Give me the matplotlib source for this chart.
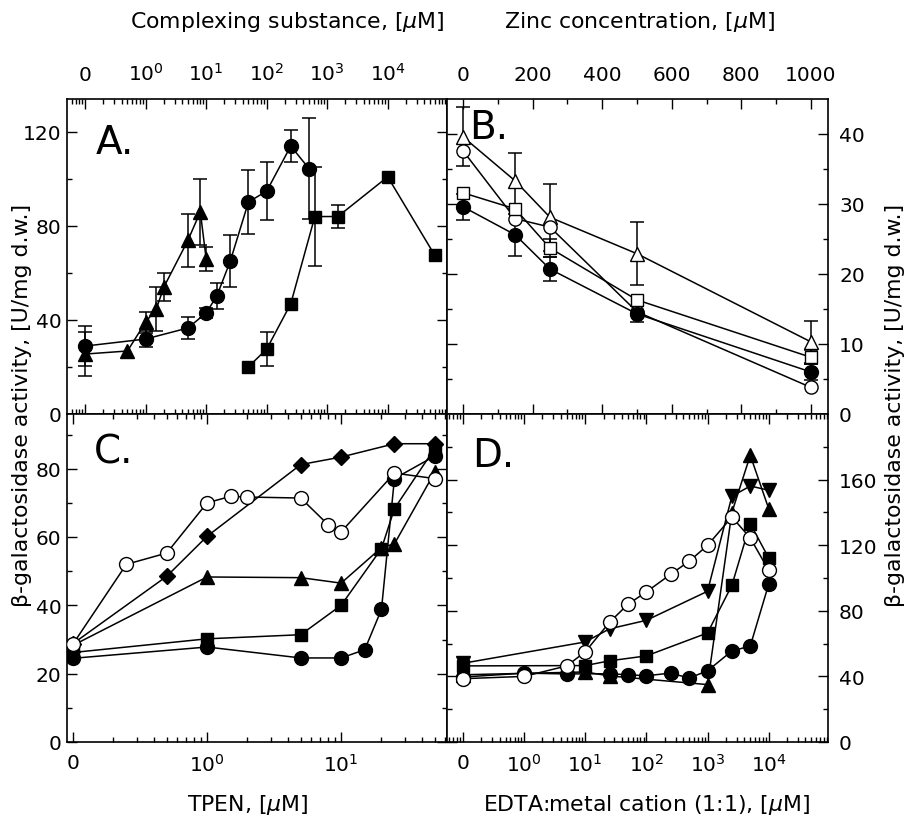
import numpy as np
import matplotlib.pyplot as plt
from matplotlib.ticker import FixedLocator, LogLocator, NullFormatter, MultipleLocator

plt.rcParams['font.family'] = 'DejaVu Sans'
plt.rcParams['mathtext.fontset'] = 'dejavusans'

# ---- panel A: complexing substance (log scale, 0 shown at 0.1) ----
a_tri_x = [0, 0.5, 1, 1.5, 2, 5, 8, 10]
a_tri_y = [25.5, 26.8, 39.1, 44.7, 54.0, 73.9, 86.0, 66.0]
a_tri_err = [9.3, 0, 4.5, 9.5, 6, 11.3, 14, 5]

a_circ_x = [0, 1, 5, 10, 15, 25, 50, 100, 250, 500]
a_circ_y = [28.9, 31.9, 36.6, 43.0, 50.2, 65.0, 90.2, 94.8, 114.0, 104.4]
a_circ_err = [8.5, 3.2, 4.5, 2, 5.7, 11, 13.8, 12.2, 7, 21.5]

a_sq_x = [50, 100, 250, 625, 1500, 10000, 60000]
a_sq_y = [20.1, 27.6, 46.9, 84.0, 84.0, 100.9, 67.5]
a_sq_err = [0, 7.2, 0, 21, 5, 0, 0]

# ---- panel B: zinc concentration ----
b_x = [0, 150, 250, 500, 1000]
b_otri = [39.6, 33.3, 28.1, 22.9, 10.3]
b_otri_err = [4.2, 4, 4.8, 4.5, 3]
b_ocirc = [37.6, 27.9, 26.7, 14.6, 3.8]
b_osq = [31.6, 29.3, 23.7, 16.3, 8.1]
b_osq_err = [0, 0, 1.3, 0, 1]
b_fcirc = [29.6, 25.6, 20.7, 14.3, 6.0]
b_fcirc_err = [1.9, 3, 1.7, 1.1, 1.2]

# ---- panel C: TPEN ----
c_ocirc_x = [0, 0.25, 0.5, 1, 1.5, 2, 5, 8, 10, 25, 50]
c_ocirc_y = [28.7, 52.0, 55.3, 70.0, 71.9, 71.7, 71.4, 63.6, 61.5, 78.7, 77.1]
c_dia_x = [0, 0.5, 1, 5, 10, 25, 50]
c_dia_y = [28.8, 48.5, 60.2, 81.2, 83.4, 87.3, 87.3]
c_tri_x = [0, 1, 5, 10, 20, 25, 50]
c_tri_y = [28.3, 48.3, 48.1, 46.5, 56.9, 58.0, 79.0]
c_sq_x = [0, 1, 5, 10, 20, 25, 50]
c_sq_y = [26.2, 30.2, 31.4, 40.0, 56.6, 68.3, 86.0]
c_circ_x = [0, 1, 5, 10, 15, 20, 25, 50]
c_circ_y = [24.5, 27.8, 24.6, 24.6, 27.0, 38.8, 77.1, 83.7]

# ---- panel D: EDTA:metal cation ----
d_ocirc_x = [0, 1, 5, 10, 25, 50, 100, 250, 500, 1000, 2500, 5000, 10000]
d_ocirc_y = [38.6, 40.0, 46.4, 55.0, 73.0, 84.0, 91.5, 102.3, 110.2, 119.9, 137.2, 124.4, 104.7]
d_dtri_x = [0, 10, 25, 100, 1000, 2500, 5000, 10000]
d_dtri_y = [48, 61, 69, 74.2, 91.9, 149.8, 156.1, 153.5]
d_utri_x = [0, 10, 25, 1000, 2500, 5000, 10000]
d_utri_y = [41, 42.7, 40.3, 35.0, 139.9, 174.8, 142.3]
d_sq_x = [0, 10, 25, 100, 1000, 2500, 5000, 10000]
d_sq_y = [46.4, 46.6, 49.5, 52.5, 66.5, 95.5, 133.2, 112.2]
d_fcirc_x = [0, 1, 5, 25, 50, 100, 250, 500, 1000, 2500, 5000, 10000]
d_fcirc_y = [39.6, 42.0, 41.5, 41.6, 41.0, 40.4, 42.0, 39.0, 43.4, 55.5, 58.5, 96.2]

log_ticks = [0.1, 1, 10, 100, 1000, 10000]
log_labels = ['0', '$10^{0}$', '$10^{1}$', '$10^{2}$', '$10^{3}$', '$10^{4}$']

FS = 14.5


def zpos(x):
    # zero is drawn one decade below 10^0
    x = np.asarray(x, dtype=float)
    return np.where(x == 0, 0.1, x)


def series(ax, x, y, marker, ms, filled=True, err=None, logx=True):
    xs = zpos(x) if logx else np.asarray(x, dtype=float)
    y = np.asarray(y, dtype=float)
    if err is not None:
        err = np.asarray(err, dtype=float)
        m = err > 0
        ax.errorbar(xs[m], y[m], yerr=err[m], fmt='none', ecolor='black',
                    elinewidth=1.1, capsize=5, capthick=1.1, zorder=2)
    ax.plot(xs, y, color='black', lw=1.1, marker=marker, ms=ms,
            mfc='black' if filled else 'white', mec='black', mew=1.0, zorder=3)


def style(ax, ymaj, ymin, ylim):
    ax.set_ylim(*ylim)
    ax.yaxis.set_major_locator(FixedLocator(ymaj))
    ax.yaxis.set_minor_locator(FixedLocator(ymin))
    ax.tick_params(which='both', direction='in', top=True, bottom=True,
                   left=True, right=True, width=1.0, labelsize=FS)
    ax.tick_params(which='major', length=7)
    ax.tick_params(which='minor', length=3.5)
    for s in ax.spines.values():
        s.set_linewidth(1.2)


def logaxis(ax, lo, hi):
    ax.set_xscale('log')
    ax.set_xlim(10 ** lo, 10 ** hi)
    ticks = [t for t in log_ticks if 10 ** lo <= t <= 10 ** hi]
    ax.xaxis.set_major_locator(FixedLocator(ticks))
    ax.set_xticklabels(log_labels[:len(ticks)])
    ax.xaxis.set_minor_locator(LogLocator(base=10, subs=np.arange(2, 10), numticks=30))
    ax.xaxis.set_minor_formatter(NullFormatter())


fig = plt.figure(figsize=(9.09, 8.2), dpi=100)
W, H = 909, 820
ax_a = fig.add_axes([67 / W, 1 - 415 / H, 380 / W, 315 / H])
ax_b = fig.add_axes([447 / W, 1 - 415 / H, 381 / W, 315 / H])
ax_c = fig.add_axes([67 / W, 1 - 743 / H, 380 / W, 328 / H])
ax_d = fig.add_axes([447 / W, 1 - 743 / H, 381 / W, 328 / H])

# A
series(ax_a, a_tri_x, a_tri_y, '^', 9.5, err=a_tri_err)
series(ax_a, a_circ_x, a_circ_y, 'o', 10, err=a_circ_err)
series(ax_a, a_sq_x, a_sq_y, 's', 8.5, err=a_sq_err)
logaxis(ax_a, -1.3, 4.98)
style(ax_a, [0, 40, 80, 120], [20, 60, 100], (0, 134))
ax_a.tick_params(axis='x', labeltop=True, labelbottom=False)
ax_a.tick_params(axis='x', which='major', pad=11)
ax_a.tick_params(axis='y', which='major', pad=4)
ax_a.text(0.075, 0.865, 'A.', transform=ax_a.transAxes, fontsize=28, va='center')

# B
series(ax_b, b_x, b_otri, '^', 9.5, filled=False, err=b_otri_err, logx=False)
series(ax_b, b_x, b_ocirc, 'o', 9.5, filled=False, logx=False)
series(ax_b, b_x, b_osq, 's', 8.5, filled=False, err=b_osq_err, logx=False)
series(ax_b, b_x, b_fcirc, 'o', 10, err=b_fcirc_err, logx=False)
ax_b.set_xlim(-46, 1049)
ax_b.xaxis.set_major_locator(MultipleLocator(200))
ax_b.xaxis.set_minor_locator(MultipleLocator(100))
style(ax_b, [0, 10, 20, 30, 40], [5, 15, 25, 35], (0, 45))
ax_b.tick_params(axis='x', labeltop=True, labelbottom=False)
ax_b.tick_params(axis='x', which='major', pad=11)
ax_b.tick_params(axis='y', labelleft=False, labelright=True)
ax_b.tick_params(axis='y', which='major', pad=8)
ax_b.text(0.058, 0.91, 'B.', transform=ax_b.transAxes, fontsize=28, va='center')

# C
series(ax_c, c_circ_x, c_circ_y, 'o', 10)
series(ax_c, c_sq_x, c_sq_y, 's', 8.5)
series(ax_c, c_tri_x, c_tri_y, '^', 9.5)
series(ax_c, c_dia_x, c_dia_y, 'D', 8.5)
series(ax_c, c_ocirc_x, c_ocirc_y, 'o', 10, filled=False)
logaxis(ax_c, -1.045, 1.79)
style(ax_c, [0, 20, 40, 60, 80], [10, 30, 50, 70, 90], (0, 96))
ax_c.tick_params(axis='x', which='major', pad=8)
ax_c.tick_params(axis='y', which='major', pad=4)
ax_c.text(0.072, 0.885, 'C.', transform=ax_c.transAxes, fontsize=28, va='center')

# D
series(ax_d, d_fcirc_x, d_fcirc_y, 'o', 10)
series(ax_d, d_sq_x, d_sq_y, 's', 8.5)
series(ax_d, d_utri_x, d_utri_y, '^', 9.5)
series(ax_d, d_dtri_x, d_dtri_y, 'v', 9.5)
series(ax_d, d_ocirc_x, d_ocirc_y, 'o', 10, filled=False)
logaxis(ax_d, -1.26, 4.97)
style(ax_d, [0, 40, 80, 120, 160], [20, 60, 100, 140, 180], (0, 200))
ax_d.tick_params(axis='x', which='major', pad=8)
ax_d.tick_params(axis='y', labelleft=False, labelright=True)
ax_d.tick_params(axis='y', which='major', pad=8)
ax_d.text(0.066, 0.875, 'D.', transform=ax_d.transAxes, fontsize=28, va='center')

# axis titles
lab = 15.8
fig.text(287 / W, 1 - 22 / H, r'Complexing substance, [$\mu$M]', ha='center', va='center', fontsize=lab)
fig.text(639 / W, 1 - 22 / H, r'Zinc concentration, [$\mu$M]', ha='center', va='center', fontsize=lab)
fig.text(248 / W, 1 - 805 / H, r'TPEN, [$\mu$M]', ha='center', va='center', fontsize=lab)
fig.text(647 / W, 1 - 805 / H, r'EDTA:metal cation (1:1), [$\mu$M]', ha='center', va='center', fontsize=lab)
ylab = 'β-galactosidase activity, [U/mg d.w.]'
fig.text(22 / W, 1 - 405 / H, ylab, rotation=90, ha='center', va='center', fontsize=lab)
fig.text(895 / W, 1 - 405 / H, ylab, rotation=90, ha='center', va='center', fontsize=lab)

fig.savefig('out.png', dpi=100)
